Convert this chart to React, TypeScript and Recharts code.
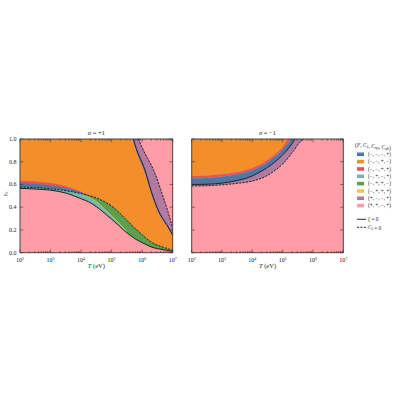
'use client'

import {
  ComposedChart,
  Area,
  Line,
  XAxis,
  YAxis,
  CartesianGrid,
  Legend,
  Label,
} from 'recharts'

// ---- data (x is log10 of T in eV) ----

const leftLogT = [2, 2.5, 3, 3.5, 4, 4.25, 4.5, 4.75, 5, 5.25, 5.5, 5.71, 5.75, 5.87, 6, 6.1, 6.2, 6.3, 6.4, 6.5, 6.6, 6.7, 6.8, 6.9, 7]
// lower branch of zeta = 0 (solid) and C_zeta = 0 (dashed)
const leftZetaLow = [0.566, 0.56, 0.55, 0.525, 0.475, 0.447, 0.405, 0.352, 0.295, 0.235, 0.175, 0.133, 0.125, 0.107, 0.088, 0.075, 0.062, 0.05, 0.042, 0.036, 0.031, 0.026, 0.021, 0.017, 0.013]
const leftCZetaLow = [0.577, 0.572, 0.562, 0.545, 0.52, 0.503, 0.482, 0.45, 0.41, 0.352, 0.285, 0.228, 0.218, 0.19, 0.158, 0.135, 0.112, 0.093, 0.078, 0.066, 0.056, 0.047, 0.039, 0.031, 0.024]
const leftTealTop = [0.577, 0.572, 0.562, 0.545, 0.515, 0.485, 0.445, 0.385, 0.32, 0.255, 0.185, null, null, null, null, null, null, null, null, null, null, null, null, null, null]
const leftYellowTop = [null, null, null, null, 0.518, 0.49, 0.452, 0.392, 0.328, 0.262, 0.19, null, null, null, null, null, null, null, null, null, null, null, null, null, null]
const leftBlueTop = [0.61, 0.605, 0.592, 0.57, 0.532, 0.503, null, null, null, null, null, null, null, null, null, null, null, null, null, null, null, null, null, null, null]
const leftRedTop = [0.632, 0.627, 0.612, 0.585, 0.537, 0.503, null, null, null, null, null, null, null, null, null, null, null, null, null, null, null, null, null, null, null]
// upper branch
const leftBlueStrip = [null, null, null, null, null, null, null, null, null, null, null, 0.975, 0.94, 0.845, 0.765, 0.695, 0.605, 0.515, 0.437, 0.37, 0.318, 0.275, 0.237, 0.193, 0.145]
const leftZetaUp = [null, null, null, null, null, null, null, null, null, null, null, 1.0, 0.965, 0.87, 0.79, 0.72, 0.63, 0.54, 0.46, 0.39, 0.335, 0.29, 0.25, 0.205, 0.155]
const leftCZetaUp = [null, null, null, null, null, null, null, null, null, null, null, null, null, 1.0, 0.925, 0.87, 0.82, 0.77, 0.71, 0.64, 0.56, 0.48, 0.4, 0.31, 0.223]

const rightLogT = [2, 2.5, 3, 3.5, 4, 4.25, 4.5, 4.75, 5, 5.2, 5.3, 5.4, 5.5, 5.6, 5.7, 6, 6.5, 7]
const rightRedTop = [0.675, 0.678, 0.69, 0.71, 0.745, 0.775, 0.815, 0.865, 0.93, 1.0, null, null, null, null, null, null, null, null]
const rightBlueTop = [0.655, 0.658, 0.67, 0.69, 0.725, 0.755, 0.795, 0.845, 0.91, 0.97, 1.0, null, null, null, null, null, null, null]
const rightZeta = [0.6, 0.602, 0.612, 0.635, 0.675, 0.71, 0.75, 0.8, 0.86, 0.92, 0.955, 1.0, null, null, null, null, null, null]
const rightCZeta = [0.587, 0.589, 0.597, 0.61, 0.63, 0.65, 0.68, 0.725, 0.78, 0.84, 0.875, 0.91, 0.95, 0.98, 1.0, null, null, null]

const decades = [2, 3, 4, 5, 6, 7]
const yTicks = [0, 0.2, 0.4, 0.6, 0.8, 1.0]
const legendTuples = ['(−, −, −, +)', '(−, −, +, −)', '(−, −, +, +)', '(−, +, −, +)', '(−, +, +, −)', '(−, +, +, +)', '(+, −, −, +)', '(+, +, −, +)']

const C = {
  blue: '#4E79A7',
  orange: '#F28E2B',
  red: '#E15759',
  teal: '#76B7B2',
  green: '#59A14F',
  yellow: '#EDC948',
  purple: '#B07AA1',
  pink: '#FF9DA7',
}
const legendColors = [C.blue, C.orange, C.red, C.teal, C.green, C.yellow, C.purple, C.pink]

const FONT = '"Liberation Serif", "DejaVu Serif", serif'
const INK = '#333'
const LINE = '#111'

const minorTicks = decades
  .slice(0, -1)
  .flatMap((d) => [2, 3, 4, 5, 6, 7, 8, 9].map((k) => d + Math.log10(k)))
const xTicks = [...decades, ...minorTicks].sort((a, b) => a - b)

const leftRows = leftLogT.map((x, i) => ({
  x,
  zl: leftZetaLow[i],
  czl: leftCZetaLow[i],
  tt: leftTealTop[i],
  yt: leftYellowTop[i],
  bt: leftBlueTop[i],
  rt: leftRedTop[i],
  bs: leftBlueStrip[i],
  zu: leftZetaUp[i],
  czu: leftCZetaUp[i],
}))

const rightRows = rightLogT.map((x, i) => ({
  x,
  rt: rightRedTop[i],
  bt: rightBlueTop[i],
  z: rightZeta[i],
  cz: rightCZeta[i],
}))

const isMajor = (v: number) => Math.abs(v - Math.round(v)) < 1e-6

// ticks point into the plot, matplotlib style
const bottomTick = (showLabel: boolean) => (p: any) => {
  const v = p.payload.value
  const major = isMajor(v)
  return (
    <g>
      <line x1={p.x} x2={p.x} y1={p.y} y2={p.y - (major ? 3.2 : 1.7)} stroke={INK} strokeWidth={0.6} />
      {major && showLabel && (
        <text x={p.x} y={p.y + 9.3} textAnchor="middle" fontSize={6} fontFamily={FONT} fill="#222">
          10<tspan dy={-2.4} fontSize={4}>{Math.round(v)}</tspan>
        </text>
      )}
    </g>
  )
}

const topTick = (p: any) => {
  const major = isMajor(p.payload.value)
  return <line x1={p.x} x2={p.x} y1={p.y} y2={p.y + (major ? 3.2 : 1.7)} stroke={INK} strokeWidth={0.6} />
}

const leftTick = (showLabel: boolean) => (p: any) => (
  <g>
    <line x1={p.x} x2={p.x + 3.2} y1={p.y} y2={p.y} stroke={INK} strokeWidth={0.6} />
    {showLabel && (
      <text x={p.x - 3.5} y={p.y + 2} textAnchor="end" fontSize={6} fontFamily={FONT} fill="#222">
        {Number(p.payload.value).toFixed(1)}
      </text>
    )}
  </g>
)

const rightTick = (p: any) => (
  <line x1={p.x} x2={p.x - 3.2} y1={p.y} y2={p.y} stroke={INK} strokeWidth={0.6} />
)

const frame = { stroke: INK, strokeWidth: 0.9 }

const titleLabel = (sign: string) => (props: any) => {
  const vb = props.viewBox || {}
  return (
    <text x={vb.x + vb.width / 2} y={vb.y - 3} textAnchor="middle" fontSize={6.5} fontFamily={FONT} fill="#222">
      <tspan fontStyle="italic">σ</tspan> = {sign}1
    </text>
  )
}

const xLabel = (props: any) => {
  const vb = props.viewBox || {}
  return (
    <text x={vb.x + vb.width / 2} y={vb.y + 15.5} textAnchor="middle" fontSize={6.5} fontFamily={FONT} fill="#222">
      <tspan fontStyle="italic">T</tspan> (eV)
    </text>
  )
}

const yLabel = () => (
  <text transform="translate(6.5,74) rotate(-90)" textAnchor="middle" fontSize={6.5} fontFamily={FONT} fill="#222">
    <tspan fontStyle="italic">ε</tspan>
    <tspan dy={1.5} fontSize={4.3} fontStyle="italic">b</tspan>
  </text>
)

const areaProps = {
  type: 'monotone' as const,
  stroke: 'none',
  fillOpacity: 1,
  isAnimationActive: false,
  dot: false,
  activeDot: false,
  connectNulls: false,
}

const lineProps = {
  type: 'monotone' as const,
  stroke: LINE,
  strokeWidth: 0.9,
  isAnimationActive: false,
  dot: false,
  activeDot: false,
  connectNulls: false,
}

const Sub = ({ base, sub }: { base: string; sub: string }) => (
  <>
    <tspan fontStyle="italic">{base}</tspan>
    <tspan dy={1.3} fontSize={3.8} fontStyle="italic">{sub}</tspan>
    <tspan dy={-1.3}></tspan>
  </>
)

function LegendBox() {
  return (
    <svg width={48} height={100} style={{ overflow: 'visible' }}>
      <text x={3} y={10.5} fontSize={5.6} fontFamily={FONT} fill="#222">
        (<tspan fontStyle="italic">F</tspan>, <Sub base="C" sub="ζ" />, <Sub base="C" sub="ηη" />,{' '}
        <Sub base="C" sub="ηb" />)
      </text>
      {legendTuples.map((t, i) => {
        const cy = 18.3 + i * 7.33
        return (
          <g key={t + i}>
            <rect x={5} y={cy - 1.8} width={7} height={3.6} fill={legendColors[i]} />
            <text x={16} y={cy + 1.8} fontSize={5.2} fontFamily={FONT} fill="#222">
              {t}
            </text>
          </g>
        )
      })}
      <line x1={5} x2={14} y1={83.3} y2={83.3} stroke={LINE} strokeWidth={0.9} />
      <text x={16} y={85.1} fontSize={5.2} fontFamily={FONT} fill="#222">
        <tspan fontStyle="italic">ζ</tspan> = 0
      </text>
      <line x1={5} x2={14} y1={91.3} y2={91.3} stroke={LINE} strokeWidth={0.9} strokeDasharray="2.2 1.2" />
      <text x={16} y={93.1} fontSize={5.2} fontFamily={FONT} fill="#222">
        <Sub base="C" sub="ζ" /> = 0
      </text>
    </svg>
  )
}

function LeftPanel() {
  return (
    <ComposedChart width={180} height={160} data={leftRows} margin={{ top: 18, right: 6.3, bottom: 5.3, left: 6 }}>
      <CartesianGrid horizontal={false} vertical={false} fill={C.pink} fillOpacity={1} />
      <Area {...areaProps} dataKey={(r: any) => [r.czl, r.bs ?? 1]} fill={C.orange} />
      <Area {...areaProps} dataKey={(r: any) => (r.rt == null ? null : [r.czl, r.rt])} fill={C.red} />
      <Area {...areaProps} dataKey={(r: any) => (r.bt == null ? null : [r.czl, r.bt])} fill={C.blue} />
      <Area {...areaProps} dataKey={(r: any) => [r.zl, r.czl]} fill={C.green} />
      <Area {...areaProps} dataKey={(r: any) => (r.yt == null ? null : [r.zl, r.yt])} fill={C.yellow} />
      <Area {...areaProps} dataKey={(r: any) => (r.tt == null ? null : [r.zl, r.tt])} fill={C.teal} />
      <Area {...areaProps} dataKey={(r: any) => (r.bs == null ? null : [r.bs, r.zu])} fill={C.blue} />
      <Area {...areaProps} dataKey={(r: any) => (r.zu == null ? null : [r.zu, r.czu ?? 1])} fill={C.purple} />
      <Line {...lineProps} dataKey="czl" strokeDasharray="2.2 1.2" />
      <Line {...lineProps} dataKey="zl" />
      <Line {...lineProps} dataKey="czu" strokeDasharray="2.2 1.2" />
      <Line {...lineProps} dataKey="zu" />
      <XAxis dataKey="x" type="number" domain={[2, 7]} ticks={xTicks} interval={0} allowDataOverflow height={22}
        tickSize={0} tickMargin={0} tickLine={false} axisLine={frame} tick={bottomTick(true)}>
        <Label content={xLabel} />
      </XAxis>
      <XAxis xAxisId="top" orientation="top" dataKey="x" type="number" domain={[2, 7]} ticks={xTicks} interval={0}
        allowDataOverflow height={1} tickSize={0} tickMargin={0} tickLine={false} axisLine={frame} tick={topTick}>
        <Label content={titleLabel('+')} />
      </XAxis>
      <YAxis type="number" domain={[0, 1]} ticks={yTicks} interval={0} allowDataOverflow width={14}
        tickSize={0} tickMargin={0} tickLine={false} axisLine={frame} tick={leftTick(true)}>
        <Label content={yLabel} />
      </YAxis>
      <YAxis yAxisId="right" orientation="right" type="number" domain={[0, 1]} ticks={yTicks} interval={0}
        allowDataOverflow width={1} tickSize={0} tickMargin={0} tickLine={false} axisLine={frame} tick={rightTick} />
    </ComposedChart>
  )
}

function RightPanel() {
  return (
    <ComposedChart width={220} height={160} data={rightRows} margin={{ top: 18, right: 55.7, bottom: 5.3, left: 9.7 }}>
      <CartesianGrid horizontal={false} vertical={false} fill={C.pink} fillOpacity={1} />
      <Area {...areaProps} dataKey={(r: any) => (r.rt == null ? null : [r.rt, 1])} fill={C.orange} />
      <Area {...areaProps} dataKey={(r: any) => (r.bt == null ? null : [r.bt, r.rt ?? 1])} fill={C.red} />
      <Area {...areaProps} dataKey={(r: any) => (r.z == null ? null : [r.z, r.bt ?? 1])} fill={C.blue} />
      <Area {...areaProps} dataKey={(r: any) => (r.cz == null ? null : [r.cz, r.z ?? 1])} fill={C.purple} />
      <Line {...lineProps} dataKey="cz" strokeDasharray="2.2 1.2" />
      <Line {...lineProps} dataKey="z" />
      <XAxis dataKey="x" type="number" domain={[2, 7]} ticks={xTicks} interval={0} allowDataOverflow height={22}
        tickSize={0} tickMargin={0} tickLine={false} axisLine={frame} tick={bottomTick(true)}>
        <Label content={xLabel} />
      </XAxis>
      <XAxis xAxisId="top" orientation="top" dataKey="x" type="number" domain={[2, 7]} ticks={xTicks} interval={0}
        allowDataOverflow height={1} tickSize={0} tickMargin={0} tickLine={false} axisLine={frame} tick={topTick}>
        <Label content={titleLabel('−')} />
      </XAxis>
      <YAxis type="number" domain={[0, 1]} ticks={yTicks} interval={0} allowDataOverflow width={2}
        tickSize={0} tickMargin={0} tickLine={false} axisLine={frame} tick={leftTick(false)} />
      <YAxis yAxisId="right" orientation="right" type="number" domain={[0, 1]} ticks={yTicks} interval={0}
        allowDataOverflow width={1} tickSize={0} tickMargin={0} tickLine={false} axisLine={frame} tick={rightTick} />
      <Legend layout="vertical" align="center" verticalAlign="middle"
        wrapperStyle={{ left: 172, top: 16, width: 48, height: 100 }} content={() => <LegendBox />} />
    </ComposedChart>
  )
}

export default function App() {
  return (
    <div style={{ position: 'absolute', left: 0, top: 0, width: 400, height: 400, background: '#fff', fontFamily: FONT, opacity: 0.999 }}>
      <div style={{ position: 'absolute', left: 0, top: 120 }}>
        <LeftPanel />
      </div>
      <div style={{ position: 'absolute', left: 180, top: 120 }}>
        <RightPanel />
      </div>
    </div>
  )
}
